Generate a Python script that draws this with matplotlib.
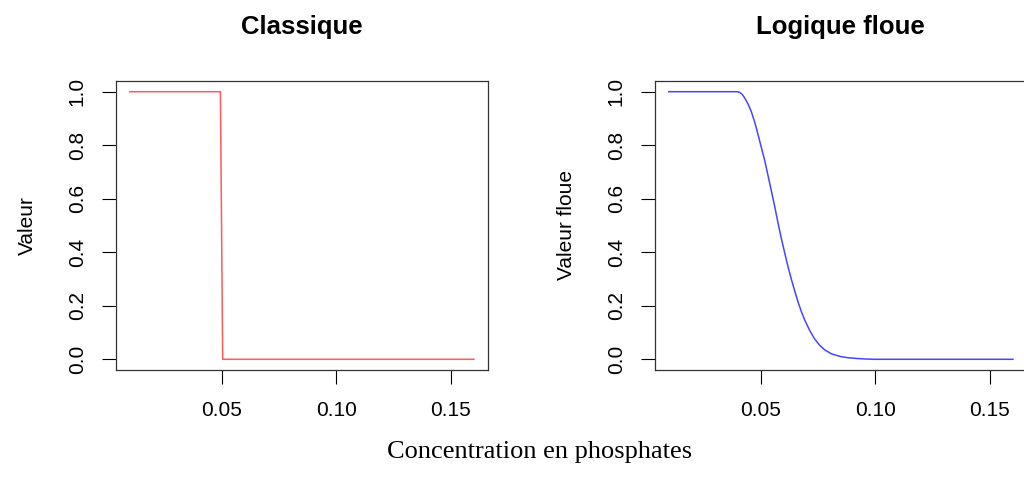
import matplotlib
matplotlib.use("Agg")
import matplotlib.pyplot as plt

# valeurs
conc_classique = [0.01, 0.0495, 0.0505, 0.16]
val_classique = [1.0, 1.0, 0.0, 0.0]

conc_floue = [0.01, 0.040, 0.041, 0.042, 0.043, 0.0445, 0.046, 0.0475,
              0.0489, 0.0504, 0.0519, 0.0533, 0.0547, 0.0562, 0.0576, 0.0591,
              0.0606, 0.062, 0.0634, 0.0649, 0.0664, 0.0678, 0.0693, 0.0714,
              0.0735, 0.0757, 0.078, 0.081, 0.085, 0.088, 0.092, 0.096,
              0.10, 0.16]
val_floue = [1.0, 1.0, 0.997, 0.99, 0.978, 0.955, 0.925, 0.885,
             0.84, 0.79, 0.74, 0.685, 0.63, 0.57, 0.51, 0.45,
             0.395, 0.345, 0.30, 0.255, 0.213, 0.178, 0.146, 0.108,
             0.077, 0.053, 0.035, 0.02, 0.01, 0.006, 0.003, 0.001,
             0.0, 0.0]

xticks = [0.05, 0.10, 0.15]
yticks = [0.0, 0.2, 0.4, 0.6, 0.8, 1.0]

plt.rcParams['font.family'] = ['Liberation Sans', 'DejaVu Sans']

fig = plt.figure(figsize=(10.24, 4.78), dpi=100)

bottom = 1 - 370 / 478
height = (370 - 81) / 478
width = 371.7 / 1024
ax1 = fig.add_axes([116 / 1024, bottom, width, height])
ax2 = fig.add_axes([655 / 1024, bottom, width, height])

panneaux = [
    (ax1, conc_classique, val_classique, '#ff5a5a', "Classique", "Valeur"),
    (ax2, conc_floue, val_floue, '#4646ff', "Logique floue", "Valeur floue"),
]

for ax, x, y, couleur, titre, ylab in panneaux:
    ax.plot(x, y, color=couleur, lw=1.1)
    ax.set_xlim(0.004, 0.166)
    ax.set_ylim(-0.04, 1.04)
    ax.set_xticks(xticks)
    ax.set_xticklabels(["%.2f" % t for t in xticks])
    ax.set_yticks(yticks)
    ax.set_yticklabels(["%.1f" % t for t in yticks], rotation=90, va='center')
    ax.tick_params(axis='both', direction='out', length=10, width=0.8,
                   labelsize=15, colors='black')
    ax.tick_params(axis='x', pad=12)
    ax.tick_params(axis='y', pad=11)
    for sp in ax.spines.values():
        sp.set_linewidth(0.9)
        sp.set_color('#333333')
    ax.set_title(titre, fontsize=18.5, fontweight='bold', pad=34)
    ax.set_ylabel(ylab, fontsize=15)
    ax.yaxis.set_label_coords(-0.212, 0.5)

fig.text(540 / 1024, 1 - 452 / 478, "Concentration en phosphates",
         family='Liberation Serif', fontsize=19, ha='center', va='center')

fig.savefig("out.png", dpi=100)
